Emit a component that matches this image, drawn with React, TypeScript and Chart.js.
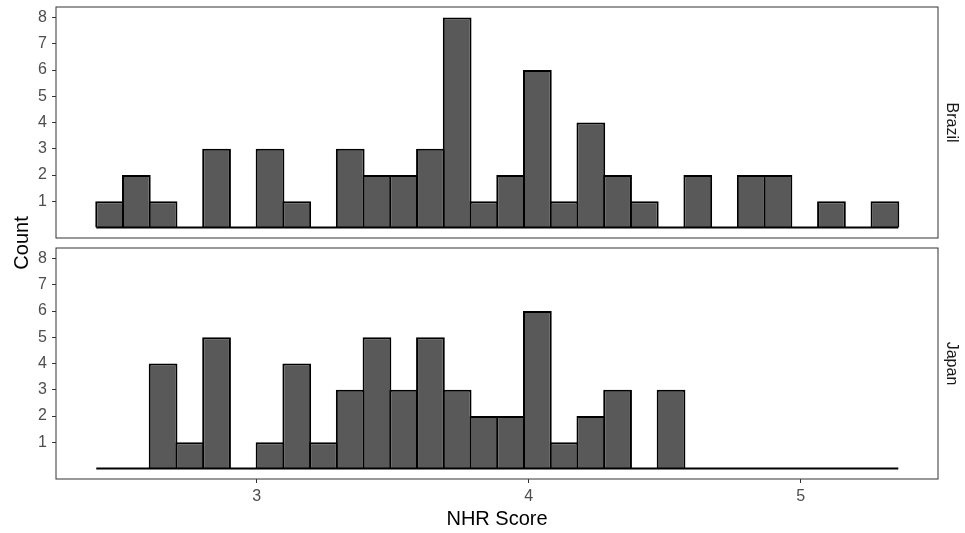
import React, { useEffect, useRef } from "react";
import { Chart, registerables } from "chart.js";

Chart.register(...registerables);

// ---- data ----
const panelLabels = ["Brazil", "Japan"];
const binStart = 2.41;
const binWidth = 0.0983;
const brazilCounts = [1, 2, 1, 0, 3, 0, 3, 1, 0, 3, 2, 2, 3, 8, 1, 2, 6, 1, 4, 2, 1, 0, 2, 0, 2, 2, 0, 1, 0, 1];
const japanCounts = [0, 0, 4, 1, 5, 0, 1, 4, 1, 3, 5, 3, 5, 3, 2, 2, 6, 1, 2, 3, 0, 3, 0, 0, 0, 0, 0, 0, 0, 0];
const yTickValues = [1, 2, 3, 4, 5, 6, 7, 8];
const xTickValues = [3, 4, 5];
const xAxisTitle = "NHR Score";
const yAxisTitle = "Count";

const FONT = '"Liberation Sans", Arial, sans-serif';
const W = 965;
const H = 533;
const LINE_W = 2;

const panelPlugin = {
  id: "panel",
  afterDraw(chart: any, _args: any, opts: any) {
    const { ctx, chartArea: a } = chart;
    ctx.save();
    ctx.strokeStyle = "#333333";
    ctx.lineWidth = 1;
    ctx.strokeRect(a.left, a.top, a.right - a.left, a.bottom - a.top);
    ctx.restore();

    ctx.save();
    ctx.fillStyle = "#1A1A1A";
    ctx.font = `16px ${FONT}`;
    ctx.translate(a.right + 9, (a.top + a.bottom) / 2);
    ctx.rotate(Math.PI / 2);
    ctx.textAlign = "center";
    ctx.textBaseline = "alphabetic";
    ctx.fillText(opts.label, 0, 0);
    ctx.restore();

    if (opts.showCount) {
      ctx.save();
      ctx.fillStyle = "#000000";
      ctx.font = `20px ${FONT}`;
      ctx.translate(28, 243);
      ctx.rotate(-Math.PI / 2);
      ctx.textAlign = "center";
      ctx.textBaseline = "alphabetic";
      ctx.fillText(yAxisTitle, 0, 0);
      ctx.restore();
    }
  },
};

function makePanel(canvas: HTMLCanvasElement, counts: number[], label: string, bottom: boolean) {
  const centers = counts.map((_, i) => binStart + binWidth * (i + 0.5));
  const edgeLo = binStart;
  const edgeHi = binStart + binWidth * counts.length;
  return new Chart(canvas, {
    type: "bar",
    data: {
      datasets: [
        {
          type: "line",
          data: [
            { x: edgeLo, y: 0 },
            { x: edgeHi, y: 0 },
          ],
          borderColor: "#000000",
          borderWidth: LINE_W,
          pointRadius: 0,
          order: 1,
        } as any,
        {
          type: "bar",
          data: centers.map((x, i) => ({ x, y: counts[i] })),
          backgroundColor: "#595959",
          borderColor: "#000000",
          borderWidth: LINE_W,
          borderSkipped: "start",
          barPercentage: 1.075,
          categoryPercentage: 1,
          order: 2,
        } as any,
      ],
    },
    options: {
      responsive: false,
      animation: false,
      events: [],
      layout: {
        padding: { left: 0, right: 27, top: bottom ? 248 : 7, bottom: bottom ? 0 : 295 },
      },
      plugins: {
        legend: { display: false },
        tooltip: { enabled: false },
        panel: { label, showCount: bottom },
      } as any,
      scales: {
        x: {
          type: "linear",
          min: 2.262,
          max: 5.505,
          offset: false,
          display: bottom,
          border: { display: false },
          grid: {
            display: true,
            offset: false,
            drawOnChartArea: false,
            drawTicks: true,
            tickLength: 4,
            tickColor: "#333333",
            tickWidth: 1,
          },
          ticks: {
            color: "#4D4D4D",
            font: { family: FONT, size: 16 },
            padding: 4,
            maxRotation: 0,
            autoSkip: false,
            callback: (v: any) => String(v),
          },
          title: {
            display: true,
            text: xAxisTitle,
            color: "#000000",
            font: { family: FONT, size: 20 },
            padding: { top: 0, bottom: 2 },
          },
          afterBuildTicks: (s: any) => {
            s.ticks = xTickValues.map((v) => ({ value: v }));
          },
          afterFit: (s: any) => {
            s.height = bottom ? 54 : 0;
            s.paddingLeft = 0;
            s.paddingRight = 0;
          },
        },
        y: {
          type: "linear",
          min: -0.4,
          max: 8.4,
          border: { display: false },
          grid: {
            display: true,
            offset: false,
            drawOnChartArea: false,
            drawTicks: true,
            tickLength: 4,
            tickColor: "#333333",
            tickWidth: 1,
          },
          ticks: {
            color: "#4D4D4D",
            font: { family: FONT, size: 16 },
            padding: 5,
            autoSkip: false,
            callback: (v: any) => String(v),
          },
          afterBuildTicks: (s: any) => {
            s.ticks = yTickValues.map((v) => ({ value: v }));
          },
          afterFit: (s: any) => {
            s.width = 56;
            s.paddingTop = 0;
            s.paddingBottom = 0;
          },
        },
      },
    } as any,
    plugins: [panelPlugin],
  });
}

export default function App() {
  const topRef = useRef<HTMLCanvasElement>(null);
  const botRef = useRef<HTMLCanvasElement>(null);

  useEffect(() => {
    if (!topRef.current || !botRef.current) return;
    const c1 = makePanel(topRef.current, brazilCounts, panelLabels[0], false);
    const c2 = makePanel(botRef.current, japanCounts, panelLabels[1], true);
    return () => {
      c1.destroy();
      c2.destroy();
    };
  }, []);

  const canvasStyle: React.CSSProperties = {
    position: "absolute",
    left: 0,
    top: 0,
    width: W,
    height: H,
  };

  return (
    <div style={{ position: "fixed", left: 0, top: 0, width: W, height: H, background: "#ffffff" }}>
      <canvas ref={topRef} width={W} height={H} style={canvasStyle} />
      <canvas ref={botRef} width={W} height={H} style={canvasStyle} />
    </div>
  );
}
